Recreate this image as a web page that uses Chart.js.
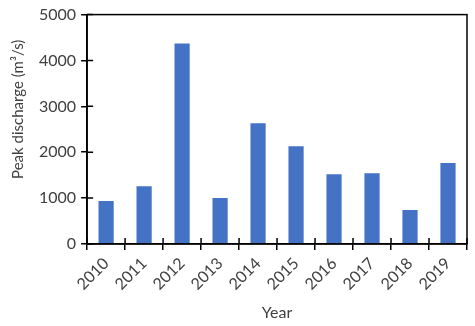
<!DOCTYPE html>
<html lang="en">
<head>
<meta charset="UTF-8">
<title>Peak discharge</title>
<style>
  html, body { margin: 0; padding: 0; background: #fff; }
  .grafico { width: 475px; height: 326px; }
</style>
</head>
<body>
<div class="grafico">
  <canvas id="barras"></canvas>
</div>
<script src="https://cdn.jsdelivr.net/npm/chart.js"></script>
<script>
  // valores
  const anos = ['2010', '2011', '2012', '2013', '2014', '2015', '2016', '2017', '2018', '2019'];
  const vazaoPico = [935, 1260, 4370, 1000, 2630, 2130, 1520, 1540, 740, 1765];
  const eixoY = { min: 0, max: 5000, passo: 1000 };
  const tituloY = 'Peak discharge (m³/s)';

  const corTexto = '#404040';
  const corEixo = '#000';
  const fonte = { family: 'Lato', size: 16 };

  // caixa em volta da area, parte interna dos ticks e titulo do eixo y
  const caixa = {
    id: 'caixa',
    afterDraw(chart) {
      const { ctx, chartArea: a, scales } = chart;
      ctx.save();
      ctx.strokeStyle = corEixo;
      ctx.lineWidth = 1.5;
      ctx.strokeRect(a.left, a.top, a.right - a.left, a.bottom - a.top);
      ctx.beginPath();
      scales.y.ticks.forEach((t, i) => {
        const y = scales.y.getPixelForTick(i);
        ctx.moveTo(a.left, y);
        ctx.lineTo(a.left + 6, y);
      });
      const n = scales.x.ticks.length;
      for (let i = 0; i <= n; i++) {
        const x = scales.x.getPixelForValue(i - 0.5);
        ctx.moveTo(x, a.bottom);
        ctx.lineTo(x, a.bottom - 6);
      }
      ctx.stroke();

      // titulo y um pouco acima do centro, como no original
      ctx.translate(18, (a.top + a.bottom) / 2 - 20);
      ctx.rotate(-Math.PI / 2);
      ctx.fillStyle = corTexto;
      ctx.font = '15px Lato';
      ctx.textAlign = 'center';
      ctx.textBaseline = 'middle';
      ctx.fillText(tituloY, 0, 0);
      ctx.restore();
    }
  };

  new Chart(document.getElementById('barras'), {
    type: 'bar',
    data: {
      labels: anos,
      datasets: [{
        data: vazaoPico,
        backgroundColor: '#4472C4',
        borderWidth: 0,
        barPercentage: 0.4,
        categoryPercentage: 1
      }]
    },
    options: {
      responsive: true,
      maintainAspectRatio: false,
      animation: false,
      layout: { padding: { top: 13, right: 8, left: 34, bottom: 4 } },
      plugins: { legend: { display: false }, tooltip: { enabled: false } },
      scales: {
        x: {
          grid: { offset: true, drawOnChartArea: false, color: corEixo, lineWidth: 1.5, tickLength: 6, tickWidth: 1.5 },
          border: { color: corEixo, width: 1.5 },
          ticks: { color: corTexto, font: fonte, maxRotation: 45, minRotation: 45, padding: 4 },
          title: { display: true, text: 'Year', color: corTexto, font: fonte, padding: { top: 5, bottom: 0 } }
        },
        y: {
          min: eixoY.min,
          max: eixoY.max,
          grid: { drawOnChartArea: false, color: corEixo, lineWidth: 1.5, tickLength: 6, tickWidth: 1.5 },
          border: { color: corEixo, width: 1.5 },
          ticks: { stepSize: eixoY.passo, color: corTexto, font: fonte, padding: 5, callback: v => String(v) },
          title: { display: false }
        }
      }
    },
    plugins: [caixa]
  });
</script>
</body>
</html>
